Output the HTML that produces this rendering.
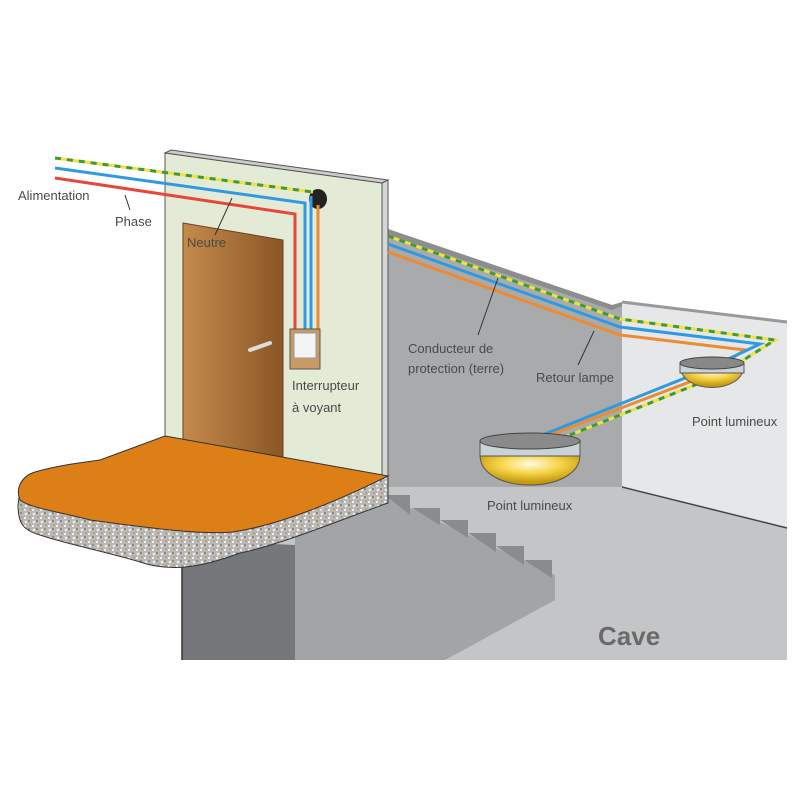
<!DOCTYPE html>
<html><head><meta charset="utf-8"><style>
html,body{margin:0;padding:0;background:#fff;}
svg{display:block;}
text{font-family:"Liberation Sans",sans-serif;fill:#4a4a4a;font-size:13px;}
</style></head><body>
<svg width="800" height="800" viewBox="0 0 800 800" xmlns="http://www.w3.org/2000/svg">
<defs>
<linearGradient id="door" x1="0" x2="1" y1="0" y2="0"><stop offset="0" stop-color="#c58a4c"/><stop offset="1" stop-color="#8a5626"/></linearGradient>
<radialGradient id="lamp" cx="0.5" cy="0.3" r="0.6"><stop offset="0" stop-color="#fffbe6"/><stop offset="0.5" stop-color="#f7d54a"/><stop offset="1" stop-color="#c59a10"/></radialGradient>
<pattern id="grav" width="8" height="8" patternUnits="userSpaceOnUse"><rect width="8" height="8" fill="#b8b8b8"/><circle cx="2" cy="2" r="1.3" fill="#eee"/><circle cx="6" cy="5" r="1.1" fill="#c89a5a"/><circle cx="5" cy="1" r="0.8" fill="#555"/><circle cx="1" cy="6" r="1" fill="#fff"/></pattern>
</defs>
<polygon points="385,480 620,487 787,528 787,660 182,660 182,540" fill="#c4c5c7"/>
<polygon points="385,228 612,305 622,305 622,487 385,487" fill="#a9aaac"/>
<polygon points="385,228 612,305 622,302 622,306 612,310 385,234" fill="#8c8d8f"/>
<polygon points="622,302 787,322 787,528 622,487" fill="#e6e7e8"/>
<line x1="622" y1="487" x2="787" y2="528" stroke="#444" stroke-width="1.5"/>
<line x1="622" y1="302" x2="787" y2="322" stroke="#999" stroke-width="3"/>
<polygon points="295,495 382,495 555,575 555,600 445,660 295,660" fill="#a3a4a6"/>
<g fill="#8a8b8d">
<polygon points="385,495 410,495 410,515"/><polygon points="412,508 440,508 440,525"/><polygon points="440,520 468,520 468,538"/><polygon points="468,533 496,533 496,552"/><polygon points="496,546 524,546 524,565"/><polygon points="524,560 552,560 552,578"/>
</g>
<polygon points="182,540 295,545 295,660 182,660" fill="#76777a"/>
<line x1="182" y1="560" x2="182" y2="660" stroke="#333" stroke-width="1.5"/>
<polygon points="165,153 382,183 382,478 165,440" fill="#e3ead6" stroke="#555" stroke-width="1"/>
<polygon points="382,183 388,180 388,478 382,478" fill="#d4d6d8" stroke="#555" stroke-width="1"/>
<polygon points="165,153 171,150 388,180 382,183" fill="#ccc" stroke="#555" stroke-width="1"/>
<polygon points="183,223 283,240 283,458 183,440" fill="url(#door)" stroke="#6b4220" stroke-width="1"/>
<line x1="250" y1="350" x2="270" y2="343" stroke="#ddd" stroke-width="4" stroke-linecap="round"/>
<ellipse cx="318" cy="199" rx="9" ry="10" fill="#222"/>
<g fill="none" stroke-width="3">
<polyline points="55,178 295,214 295,330" stroke="#e5483a"/>
<polyline points="55,168 305,203 305,330" stroke="#2f9ae0"/>
<polyline points="55,158 313,192" stroke="#f2e13a"/>
<polyline points="55,158 313,192" stroke="#3d9a3d" stroke-dasharray="6 6"/>
<polyline points="311,196 311,330" stroke="#2f9ae0"/>
<polyline points="318,205 318,330" stroke="#ee8a30"/>
</g>
<rect x="290" y="329" width="30" height="40" fill="#c79a66" stroke="#555"/>
<rect x="294" y="333" width="22" height="25" fill="#f4f4f4" stroke="#999"/>
<!-- slab -->
<path d="M388,476 L388,503 C340,520 280,545 240,553 C200,568 170,572 140,562 C100,550 70,545 40,535 C22,530 18,522 18,505 L20,490 Z" fill="url(#grav)" stroke="#333" stroke-width="1"/>
<path d="M165,436 L388,476 C340,500 280,525 233,532 C200,535 150,528 90,520 C60,512 30,508 20,500 C15,488 22,476 35,472 C60,465 85,462 100,460 Z" fill="#dc7f17" stroke="#333" stroke-width="1"/>
<g fill="none" stroke-width="3">
<polyline points="388,252 620,335 745,350 710,372" stroke="#ee8a30"/>
<polyline points="388,244 620,327 760,344 705,370 530,440" stroke="#2f9ae0"/>
<polyline points="388,236 620,319 775,340 720,375 545,445" stroke="#f2e13a"/>
<polyline points="388,236 620,319 775,340 720,375 545,445" stroke="#3d9a3d" stroke-dasharray="6 6"/>
<polyline points="700,378 550,435" stroke="#ee8a30"/>
</g>
<path d="M680,365 C680,395 744,395 744,365 Z" fill="url(#lamp)" stroke="#555"/>
<path d="M680,363 L744,363 L744,373 L680,373 Z" fill="#c9d2d6" stroke="#555"/>
<ellipse cx="712" cy="363" rx="32" ry="6" fill="#888" stroke="#444"/>
<path d="M480,455 C480,495 580,495 580,455 Z" fill="url(#lamp)" stroke="#555"/>
<path d="M480,441 L580,441 L580,456 L480,456 Z" fill="#c9d2d6" stroke="#555"/>
<ellipse cx="530" cy="441" rx="50" ry="8" fill="#8a8a8a" stroke="#444"/>
<g stroke="#333" stroke-width="1">
<line x1="125" y1="195" x2="130" y2="210"/>
<line x1="232" y1="198" x2="215" y2="235"/>
<line x1="498" y1="278" x2="478" y2="335"/>
<line x1="594" y1="331" x2="578" y2="365"/>
</g>
<text x="18" y="200">Alimentation</text>
<text x="115" y="226">Phase</text>
<text x="187" y="247" fill="#5a3a1a">Neutre</text>
<text x="292" y="390">Interrupteur</text>
<text x="292" y="412">à voyant</text>
<text x="408" y="353">Conducteur de</text>
<text x="408" y="373">protection (terre)</text>
<text x="536" y="382">Retour lampe</text>
<text x="692" y="426">Point lumineux</text>
<text x="487" y="510">Point lumineux</text>
<text x="598" y="645" style="font-size:26px;font-weight:bold;fill:#6a6a6a">Cave</text>
</svg>
</body></html>
